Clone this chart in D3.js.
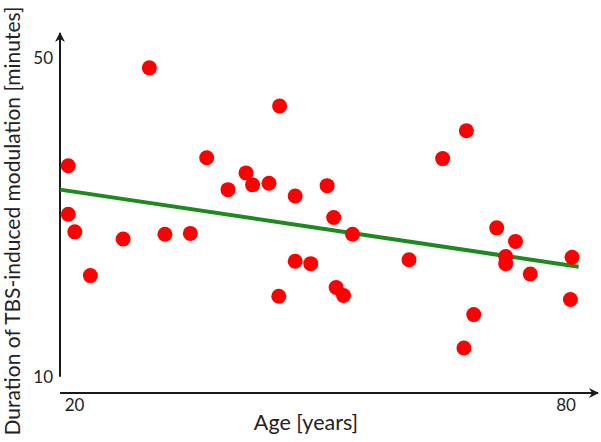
<!DOCTYPE html>
<html>
<head>
<meta charset="utf-8">
<script src="https://cdn.jsdelivr.net/npm/d3@7"></script>
<style>
  html, body { margin: 0; padding: 0; background: #fff; }
  svg { display: block; }
</style>
</head>
<body>
<svg id="chart" width="601" height="442"></svg>
<script>
// ---- data ----
const ages = [19.3, 19.3, 20.1, 22.0, 26.0, 29.2, 31.1, 34.2, 36.2, 38.8,
              41.0, 41.8, 43.8, 45.1, 47.0, 45.0, 47.0, 48.9, 50.9, 51.7,
              54.0, 52.0, 52.9, 60.9, 65.0, 67.9, 68.8, 67.6, 71.6, 73.9,
              72.7, 72.7, 75.7, 80.8, 80.6];
const durations = [36.5, 30.4, 28.2, 22.7, 27.3, 48.8, 27.9, 28.0, 37.5, 33.5,
                   35.6, 34.1, 34.3, 44.0, 32.7, 20.1, 24.5, 24.2, 34.0, 30.0,
                   27.9, 21.2, 20.2, 24.7, 37.4, 40.9, 17.8, 13.6, 28.7, 27.0,
                   25.1, 24.2, 22.9, 25.0, 19.7];
const trendAges = [18.3, 81.6];
const trendDurations = [33.5, 23.8];
const xTicks = [20, 80];
const yTicks = [10, 50];
const xLabel = "Age [years]";
const yLabel = "Duration of TBS-induced modulation [minutes]";

// ---- drawing ----
const svg = d3.select("#chart");
const font = "Lato, 'Open Sans', sans-serif";
const axisColor = "#1a1a1a";

const x = d3.scaleLinear().domain([20, 80]).range([74, 565.5]);
const y = d3.scaleLinear().domain([10, 50]).range([376.7, 58.3]);

const axisX0 = 60, axisY0 = 393;

const defs = svg.append("defs");
defs.append("marker")
  .attr("id", "arrow")
  .attr("viewBox", "0 0 10 10")
  .attr("refX", 9).attr("refY", 5)
  .attr("markerWidth", 5).attr("markerHeight", 5)
  .attr("markerUnits", "strokeWidth")
  .attr("orient", "auto")
  .append("path")
  .attr("d", "M0,0 L10,5 L0,10 L3,5 Z")
  .attr("fill", axisColor);

// axis lines with arrows
svg.append("line")
  .attr("x1", axisX0).attr("y1", y(10))
  .attr("x2", axisX0).attr("y2", 33)
  .attr("stroke", axisColor).attr("stroke-width", 2)
  .attr("marker-end", "url(#arrow)");
svg.append("line")
  .attr("x1", axisX0).attr("y1", axisY0)
  .attr("x2", 598).attr("y2", axisY0)
  .attr("stroke", axisColor).attr("stroke-width", 2)
  .attr("marker-end", "url(#arrow)");

// tick labels via d3 axes (no tick lines / domain)
const gx = svg.append("g").attr("transform", `translate(0,${axisY0})`)
  .call(d3.axisBottom(x).tickValues(xTicks).tickSize(0).tickPadding(6));
gx.select(".domain").remove();
gx.selectAll("text").attr("font-family", font).attr("font-size", 17).attr("fill", "#222");

const gy = svg.append("g").attr("transform", `translate(${axisX0},0)`)
  .call(d3.axisLeft(y).tickValues(yTicks).tickSize(0).tickPadding(7));
gy.select(".domain").remove();
gy.selectAll("text").attr("font-family", font).attr("font-size", 17).attr("fill", "#222");

// trend line
svg.append("path")
  .datum(trendAges.map((a, i) => [a, trendDurations[i]]))
  .attr("d", d3.line().x(d => x(d[0])).y(d => y(d[1])))
  .attr("stroke", "#1e8a1e").attr("stroke-width", 4).attr("fill", "none");

// points
svg.append("g").selectAll("circle")
  .data(ages.map((a, i) => [a, durations[i]]))
  .join("circle")
  .attr("cx", d => x(d[0]))
  .attr("cy", d => y(d[1]))
  .attr("r", 7.5)
  .attr("fill", "#ff0000");

// axis titles
svg.append("text")
  .attr("x", 306).attr("y", 430)
  .attr("text-anchor", "middle")
  .attr("font-family", font).attr("font-size", 21.5).attr("fill", "#222")
  .text(xLabel);

svg.append("text")
  .attr("transform", "translate(20,221) rotate(-90)")
  .attr("text-anchor", "middle")
  .attr("font-family", font).attr("font-size", 21).attr("fill", "#222")
  .text(yLabel);
</script>
</body>
</html>
